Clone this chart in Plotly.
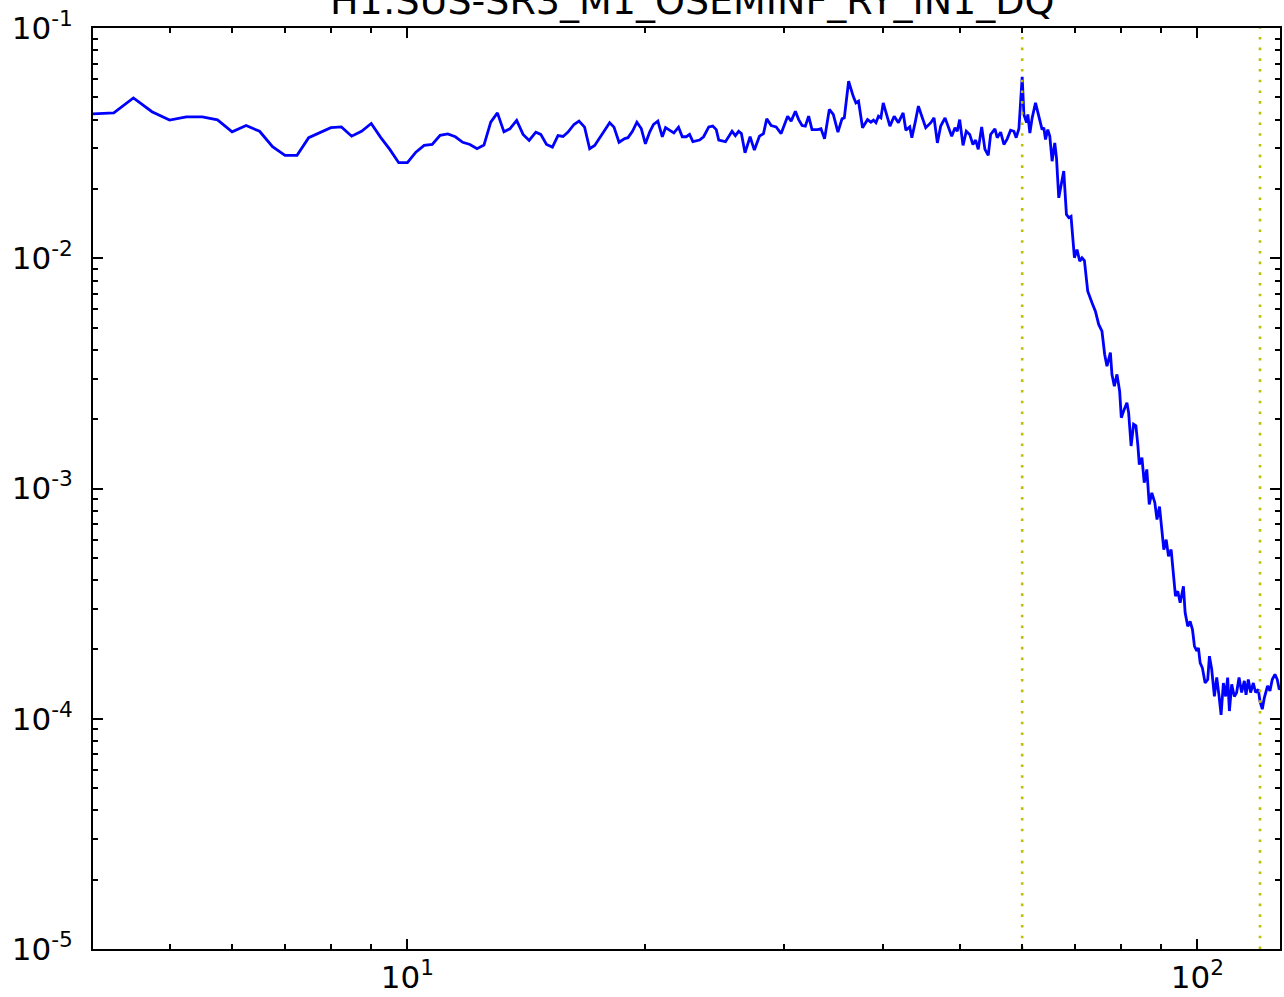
import numpy as np
import plotly.graph_objects as go

# amplitude spectrum (frequency in Hz)
freq_lo = [4.0, 4.25, 4.5, 4.75, 5.0, 5.25, 5.5, 5.75, 6.0, 6.25, 6.5, 6.75, 7.0,
           7.25, 7.5, 7.75, 8.0, 8.25, 8.5, 8.75, 9.0, 9.25, 9.5, 9.75, 10.0,
           10.25, 10.5, 10.75, 11.0, 11.25, 11.5, 11.75, 12.0, 12.25, 12.5, 12.75, 13.0]
asd_lo = [0.0424, 0.0428, 0.0497, 0.0433, 0.0398, 0.0411, 0.0411, 0.0399, 0.0354, 0.0377,
          0.0356, 0.0305, 0.0280, 0.0280, 0.0334, 0.0350, 0.0369, 0.0372, 0.0339, 0.0356,
          0.0385, 0.0335, 0.0297, 0.0260, 0.0260, 0.0289, 0.0309, 0.0312, 0.0342, 0.0347,
          0.0337, 0.0319, 0.0312, 0.0299, 0.0310, 0.0390, 0.0428]

freq_mid = [13.25, 13.48, 13.75, 14.01, 14.26, 14.54, 14.75, 15.00, 15.26, 15.51,
            15.74, 15.97, 16.25, 16.49, 16.76, 17.01, 17.26, 17.65, 18.03, 18.26,
            18.53, 18.84, 19.02, 19.27, 19.52, 19.77, 20.01, 20.26, 20.49, 20.75,
            21.02, 21.22, 21.51, 21.74, 22.04, 22.28, 22.54, 22.76, 22.98, 23.43,
            23.71, 24.07, 24.35, 24.60, 24.78, 25.27, 25.76, 26.01, 26.26, 26.47,
            26.75, 27.15, 27.49]
asd_mid = [0.0354, 0.0365, 0.0397, 0.0345, 0.0325, 0.0353, 0.0345, 0.0312, 0.0304, 0.0341,
           0.0338, 0.0353, 0.0381, 0.0394, 0.0371, 0.0299, 0.0309, 0.0345, 0.0388, 0.0371,
           0.0319, 0.0331, 0.0334, 0.0356, 0.0390, 0.0366, 0.0314, 0.0353, 0.0381, 0.0394,
           0.0337, 0.0369, 0.0359, 0.0350, 0.0371, 0.0337, 0.0337, 0.0345, 0.0321, 0.0326,
           0.0337, 0.0372, 0.0375, 0.0362, 0.0326, 0.0321, 0.0356, 0.0341, 0.0356, 0.0348,
           0.0287, 0.0337, 0.0295]

freq_hi = [27.90, 28.23, 28.50, 28.87, 29.29, 29.72, 30.29, 30.60, 30.98, 31.28,
           31.59, 31.89, 32.20, 32.52, 33.05, 33.38, 33.73, 34.20, 34.60, 35.07,
           35.49, 35.73, 36.18, 36.67, 36.96, 37.24, 37.68, 38.23, 38.61, 38.90,
           39.18, 39.47, 39.75, 40.02, 40.40, 40.81, 41.32, 41.83, 42.41, 42.75,
           43.24, 43.50, 43.92, 44.34, 44.78, 45.30, 45.97, 46.41, 46.86, 47.32,
           47.92, 48.48, 48.86, 49.33, 49.66, 50.01, 50.50, 50.98, 51.49, 51.98,
           52.39, 52.79, 53.32, 53.83, 54.35, 54.73, 55.42, 55.79, 56.35, 56.89,
           57.44, 58.01, 58.57, 58.96, 59.43, 60.00, 60.30, 60.77, 61.00, 61.36,
           61.77, 62.38, 62.80, 63.17, 63.59, 63.91, 64.22, 64.65, 65.03, 65.47,
           65.98, 66.31, 66.75, 67.73, 68.26, 68.73, 69.18, 69.87, 70.40, 70.96,
           71.43, 71.93, 72.63, 73.54, 74.27, 74.99, 75.71, 76.31, 76.82, 77.59,
           77.94, 78.49, 79.09, 79.71, 80.10, 80.64, 81.42, 81.83, 82.42, 83.02,
           83.58, 84.07, 84.41, 85.06, 85.63, 86.28, 86.89, 87.55, 88.31, 88.88,
           89.53, 90.13, 90.66, 91.29, 91.91, 92.62, 93.25, 93.79, 94.42, 95.09,
           96.00, 96.47, 97.21, 97.89, 98.56, 99.13, 99.80, 100.29, 100.79, 101.46,
           102.26, 103.04, 103.55, 104.24, 105.06, 105.78, 106.51, 107.13, 107.85, 108.57,
           109.21, 109.76, 110.49, 111.36, 112.10, 112.89, 113.75, 114.64, 115.21, 115.98,
           116.76, 117.68, 118.47, 119.40, 120.00, 120.80, 121.50, 122.67, 123.53, 124.36,
           125.34, 126.19, 126.93, 128.50]
asd_hi = [0.0339, 0.0348, 0.0403, 0.0377, 0.0372, 0.0348, 0.0414, 0.0394, 0.0435, 0.0400,
          0.0377, 0.0375, 0.0414, 0.0362, 0.0362, 0.0365, 0.0330, 0.0443, 0.0421, 0.0353,
          0.0403, 0.0407, 0.0587, 0.0505, 0.0473, 0.0481, 0.0369, 0.0400, 0.0390, 0.0398,
          0.0388, 0.0414, 0.0407, 0.0473, 0.0421, 0.0375, 0.0414, 0.0388, 0.0428, 0.0360,
          0.0372, 0.0334, 0.0388, 0.0458, 0.0414, 0.0369, 0.0388, 0.0407, 0.0317, 0.0375,
          0.0407, 0.0369, 0.0339, 0.0369, 0.0356, 0.0400, 0.0309, 0.0356, 0.0345, 0.0312,
          0.0326, 0.0297, 0.0372, 0.0297, 0.0280, 0.0345, 0.0365, 0.0334, 0.0353, 0.0312,
          0.0330, 0.0360, 0.0356, 0.0334, 0.0365, 0.0614, 0.0421, 0.0388, 0.0421, 0.0350,
          0.0407, 0.0473, 0.0435, 0.0394, 0.0362, 0.0369, 0.0328, 0.0362, 0.0339, 0.0264,
          0.0317, 0.0273, 0.0183, 0.0239, 0.0155, 0.0150, 0.0152, 0.01005, 0.0109, 0.00971,
          0.01005, 0.00978, 0.00719, 0.00641, 0.00589, 0.00516, 0.00482, 0.00382, 0.00340, 0.00389,
          0.00313, 0.00278, 0.00313, 0.00265, 0.00203, 0.00217, 0.00236, 0.00213, 0.00153, 0.00190,
          0.00187, 0.00153, 0.00127, 0.00136, 0.00106, 0.00121, 0.000852, 0.000958, 0.000870, 0.000733,
          0.000835, 0.000664, 0.000543, 0.000600, 0.000508, 0.000543, 0.000423, 0.000341, 0.000358, 0.000319,
          0.000376, 0.000289, 0.000252, 0.000265, 0.000244, 0.000207, 0.000197, 0.000203, 0.000175, 0.000166,
          0.000143, 0.000148, 0.000187, 0.000164, 0.000125, 0.000151, 0.000125, 0.000104, 0.000143, 0.000125,
          0.000151, 0.000108, 0.000141, 0.000125, 0.000130, 0.000151, 0.000130, 0.000146, 0.000127, 0.000148,
          0.000130, 0.000143, 0.000130, 0.000134, 0.000119, 0.000110, 0.000123, 0.000139, 0.000132, 0.000148,
          0.000156, 0.000148, 0.000134, 0.000140]

# marker lines (60 Hz and harmonic)
line_freqs = [60, 120]

x_ticks = [10, 100]
x_ticktext = ["10<sup>1</sup>", "10<sup>2</sup>"]
x_minor = [5, 6, 7, 8, 9, 20, 30, 40, 50, 60, 70, 80, 90]
y_ticks = [1e-5, 1e-4, 1e-3, 1e-2, 1e-1]
y_ticktext = ["10<sup>-5</sup>", "10<sup>-4</sup>", "10<sup>-3</sup>", "10<sup>-2</sup>", "10<sup>-1</sup>"]
y_minor = [m * d for d in [1e-5, 1e-4, 1e-3, 1e-2] for m in range(2, 10)]

freq = freq_lo + freq_mid + freq_hi
asd = asd_lo + asd_mid + asd_hi

FONT = "DejaVu Sans"

fig = go.Figure()
fig.add_trace(go.Scatter(x=freq, y=asd, mode="lines",
                         line=dict(color="#0000ff", width=2.8), showlegend=False))
for f in line_freqs:
    fig.add_trace(go.Scatter(x=[f, f], y=[1e-5, 1e-1], mode="lines",
                             line=dict(color="#bfbf00", width=2.6, dash="2.6px,8.1px"),
                             showlegend=False))

axis_common = dict(
    type="log", showgrid=False, zeroline=False,
    showline=True, linecolor="black", linewidth=2, mirror="allticks",
    ticks="inside", ticklen=10, tickwidth=1.5, tickcolor="black",
    tickfont=dict(family=FONT, size=31, color="black"),
)

fig.update_xaxes(**axis_common, range=[np.log10(4.0), np.log10(127.2)],
                 tickmode="array", tickvals=x_ticks, ticktext=x_ticktext,
                 minor=dict(tickmode="array", tickvals=x_minor, ticks="inside",
                            ticklen=5, tickwidth=1.5, tickcolor="black"))
fig.update_yaxes(**axis_common, range=[-5, -1], ticklabelstandoff=12,
                 tickmode="array", tickvals=y_ticks, ticktext=y_ticktext,
                 minor=dict(tickmode="array", tickvals=y_minor, ticks="inside",
                            ticklen=5, tickwidth=1.5, tickcolor="black"))

fig.add_annotation(text="H1:SUS-SR3_M1_OSEMINF_RY_IN1_DQ", xref="paper", yref="paper",
                   x=0.5, y=1, xanchor="center", yanchor="bottom", yshift=3, xshift=5,
                   showarrow=False, font=dict(family=FONT, size=38, color="black"))

fig.update_layout(
    width=1284, height=997,
    margin=dict(l=93, r=2, t=28, b=48),
    paper_bgcolor="white", plot_bgcolor="white",
)

# drop the default page margin so the figure sits at the window's corner
fig.write_html("out.html", config={"displayModeBar": False},
               post_script="document.body.style.margin='0';document.body.style.overflow='hidden';")
